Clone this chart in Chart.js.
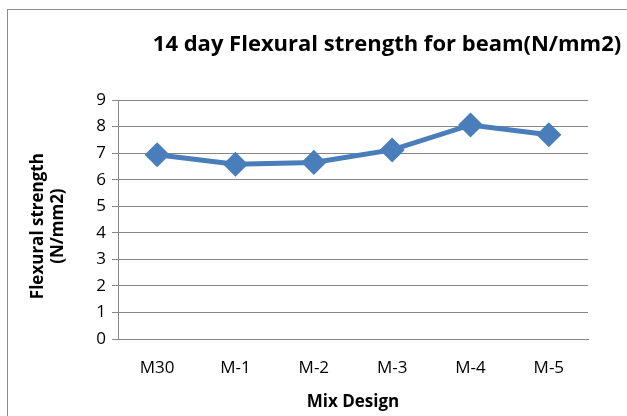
<!DOCTYPE html>
<html>
<head>
<meta charset="utf-8">
<script src="https://cdn.jsdelivr.net/npm/chart.js@4.4.0/dist/chart.umd.min.js"></script>
<style>
  html, body { margin: 0; padding: 0; background: #fff; }
  #wrap { position: relative; width: 627px; height: 416px; overflow: hidden; }
  #frame { position: absolute; left: 7px; top: 9px; width: 640px; height: 430px; border: 1px solid #8c8c8c; box-sizing: border-box; }
  canvas { position: absolute; left: 0; top: 0; }
</style>
</head>
<body>
<div id="wrap">
  <div id="frame"></div>
  <canvas id="chart" width="627" height="416"></canvas>
</div>
<script>
// 14日の曲げ強度データ
const categories = ['M30', 'M-1', 'M-2', 'M-3', 'M-4', 'M-5'];
const strengthValues = [6.94, 6.58, 6.65, 7.12, 8.06, 7.69];
const chartTitle = '14 day Flexural strength for beam(N/mm2)';
const xTitle = 'Mix Design';
const yTitle = ['Flexural strength', '(N/mm2)'];

const FONT = '"Open Sans", sans-serif';

// タイトルは右寄りに描く
const titlePlugin = {
    id: 'sideTitle',
    afterDraw(chart) {
        const c = chart.ctx;
        c.save();
        c.font = 'bold 22px ' + FONT;
        c.fillStyle = '#000';
        c.textAlign = 'center';
        c.textBaseline = 'middle';
        c.fillText(chartTitle, 387, 45);
        c.restore();
    }
};

document.addEventListener('DOMContentLoaded', init);

function init() {
    const ctx = document.getElementById('chart').getContext('2d');
    new Chart(ctx, {
        type: 'line',
        data: {
            labels: categories,
            datasets: [
                {
                    data: strengthValues,
                    borderColor: '#4a7ebb',
                    backgroundColor: '#4a7ebb',
                    borderWidth: 5,
                    pointStyle: 'rectRot',
                    pointRadius: 9,
                    pointHoverRadius: 9,
                    tension: 0,
                }
            ]
        },
        options: {
            responsive: false,
            animation: false,
            layout: { padding: { left: 28, top: 100, right: 39, bottom: 0 } },
            plugins: {
                legend: { display: false },
                title: { display: false },
                tooltip: { enabled: false },
            },
            scales: {
                x: {
                    offset: true,
                    grid: { display: false, drawTicks: false },
                    border: { color: '#868686', width: 1 },
                    ticks: { color: '#000', font: { family: FONT, size: 17 }, padding: 19 },
                    title: { display: true, text: xTitle, color: '#000', font: { family: FONT, size: 17, weight: 'bold' }, padding: { top: 0 } },
                    afterFit(scale) { scale.height = 77; },
                },
                y: {
                    min: 0,
                    max: 9,
                    ticks: { stepSize: 1, color: '#000', font: { family: FONT, size: 17 }, padding: 6 },
                    grid: { color: '#868686', lineWidth: 1, tickLength: 6 },
                    border: { color: '#868686', width: 1 },
                    title: {
                        display: true,
                        // 少し下にずらすため末尾に空白
                        text: yTitle.map(s => s + '\u00a0\u00a0\u00a0'),
                        color: '#000',
                        font: { family: FONT, size: 17, weight: 'bold', lineHeight: 1.2 },
                        padding: { top: 0, bottom: 0 }
                    },
                    afterFit(scale) { scale.width = 90; },
                }
            }
        },
        plugins: [titlePlugin]
    });
}
</script>
</body>
</html>
